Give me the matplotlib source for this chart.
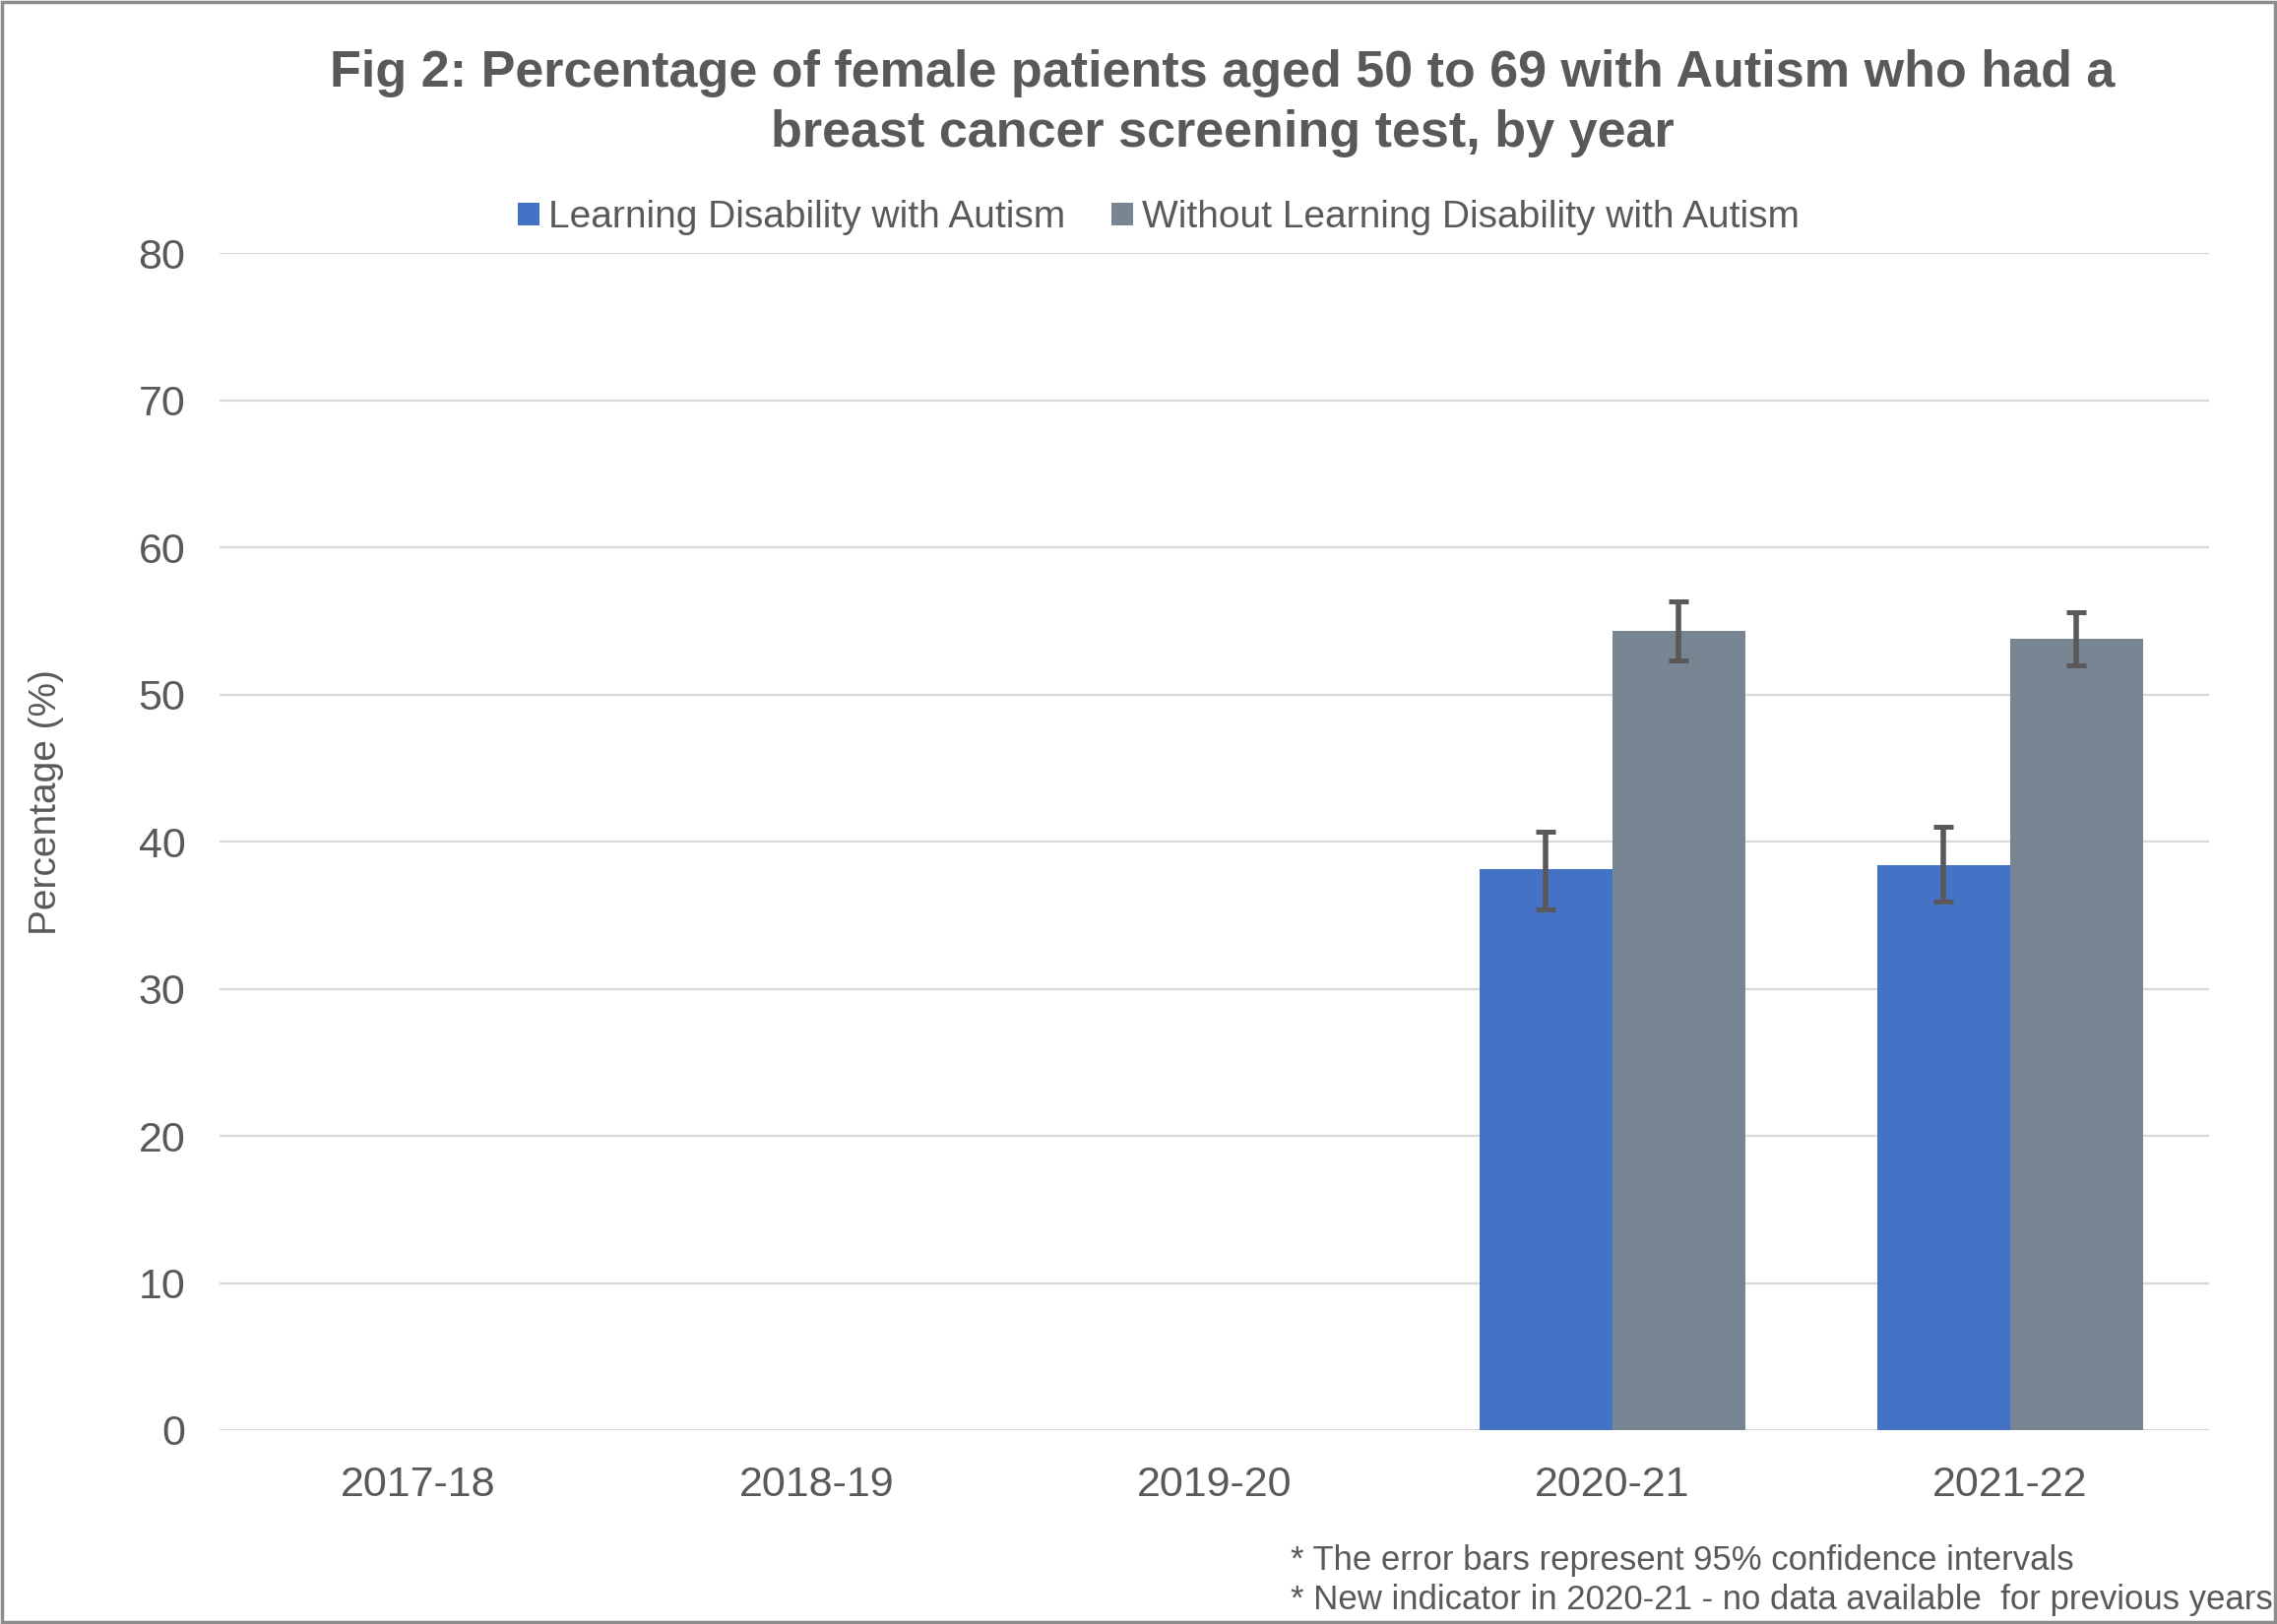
import numpy as np
import matplotlib
matplotlib.use("Agg")
import matplotlib.pyplot as plt
from matplotlib.patches import Rectangle

plt.rcParams['font.family'] = ['Liberation Sans', 'DejaVu Sans']

years = ["2017-18", "2018-19", "2019-20", "2020-21", "2021-22"]
ld_autism = [None, None, None, 38.1, 38.4]
ld_autism_lo = [None, None, None, 35.4, 35.9]
ld_autism_hi = [None, None, None, 40.7, 41.0]
no_ld_autism = [None, None, None, 54.3, 53.8]
no_ld_autism_lo = [None, None, None, 52.3, 52.0]
no_ld_autism_hi = [None, None, None, 56.3, 55.6]

series_names = ["Learning Disability with Autism", "Without Learning Disability with Autism"]
colors = ["#4472C4", "#778692"]
text_col = "#595959"


def to_arr(v):
    return np.array([np.nan if x is None else x for x in v], dtype=float)


fig = plt.figure(figsize=(23.13, 16.5), dpi=100)
ax = fig.add_axes([0.0964, 0.1194, 0.8738, 0.7248])

x = np.arange(len(years))
w = 0.334
groups = [
    (ld_autism, ld_autism_lo, ld_autism_hi, -w / 2),
    (no_ld_autism, no_ld_autism_lo, no_ld_autism_hi, w / 2),
]
handles = []
for (vals, lo, hi, off), name, c in zip(groups, series_names, colors):
    v, l, h = to_arr(vals), to_arr(lo), to_arr(hi)
    m = ~np.isnan(v)
    b = ax.bar(x[m] + off, v[m], width=w, color=c, label=name, zorder=2)
    handles.append(b)
    ax.errorbar(x[m] + off, v[m], yerr=[v[m] - l[m], h[m] - v[m]], fmt='none',
                ecolor=text_col, elinewidth=4, capsize=7.5, capthick=3.6, zorder=3)

ax.set_xlim(-0.5, len(years) - 0.5)
ax.set_ylim(0, 80)
ax.set_yticks(np.arange(0, 81, 10))
ax.set_xticks(x)
ax.set_xticklabels(years)
ax.tick_params(axis='both', length=0, labelsize=31, colors=text_col)
ax.tick_params(axis='y', pad=25)
ax.tick_params(axis='x', pad=26)
ax.grid(axis='y', color='#D9D9D9', linewidth=1.6, zorder=0)
ax.set_axisbelow(True)
for s in ax.spines.values():
    s.set_visible(False)

fig.text(0.0205, 0.506, "Percentage (%)", rotation=90, ha='center', va='center',
         fontsize=28, color=text_col)

fig.text(0.537, 0.9365,
         "Fig 2: Percentage of female patients aged 50 to 69 with Autism who had a\n"
         "breast cancer screening test, by year",
         ha='center', va='center', fontsize=37.5, fontweight='bold', color=text_col,
         linespacing=1.33)

fig.legend(handles, series_names, loc='center', bbox_to_anchor=(0.509, 0.866),
           ncol=2, frameon=False, fontsize=28, labelcolor=text_col,
           handlelength=0.55, handleheight=0.55, handletextpad=0.25, columnspacing=1.2)

fig.text(0.567, 0.0392, "* The error bars represent 95% confidence intervals",
         ha='left', va='center', fontsize=25, color=text_col)
fig.text(0.567, 0.0150, "* New indicator in 2020-21 - no data available  for previous years",
         ha='left', va='center', fontsize=25, color=text_col)

fig.patches.append(Rectangle((0.001, 0.001), 0.998, 0.998, transform=fig.transFigure,
                             fill=False, edgecolor='#8C8C8C', linewidth=2.5))

fig.savefig("out.png", dpi=100)
